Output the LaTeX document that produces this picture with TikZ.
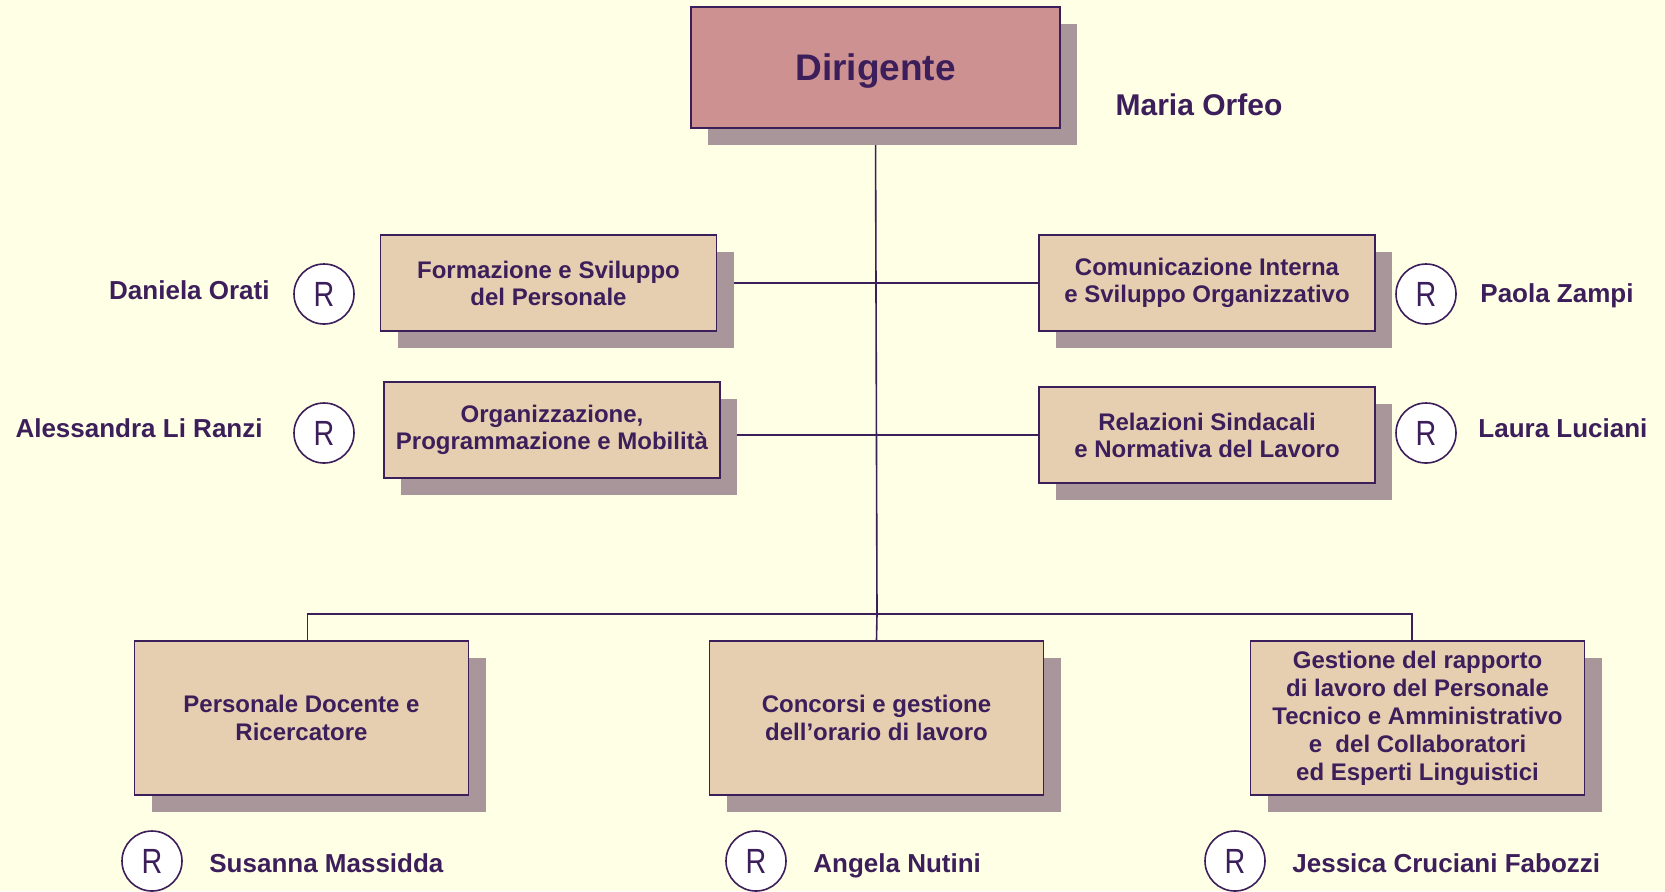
\documentclass[tikz,border=0pt]{standalone}
\usepackage{fontspec}
\setmainfont{Liberation Sans}
\newfontfamily\narrowsans[FakeStretch=0.82]{Liberation Sans}
\usetikzlibrary{shadows}
\usetikzlibrary{backgrounds}
\definecolor{bgyellow}{RGB}{255,255,229}
\definecolor{ink}{RGB}{60,30,90}
\definecolor{rosebox}{RGB}{205,145,145}
\definecolor{sandbox}{RGB}{230,207,176}
\definecolor{shadowgray}{RGB}{168,150,155}
\tikzset{
  unitbox/.style={draw=ink, line width=0.9pt, fill=sandbox, text=ink, align=center, inner sep=0pt,
    font=\bfseries\fontsize{12}{13.5}\selectfont,
    drop shadow={shadow xshift=8.5pt, shadow yshift=-8.5pt, fill=shadowgray, opacity=1}},
  midbox/.style={unitbox, minimum width=168pt, minimum height=48pt},
  lowbox/.style={unitbox, minimum width=167pt, minimum height=77pt, font=\bfseries\fontsize{12}{14}\selectfont},
  respmark/.style={circle, draw=ink, line width=0.8pt, fill=white, text=ink, minimum size=30pt, inner sep=0pt,
    font=\narrowsans\fontsize{17.5}{17.5}\selectfont},
  person/.style={text=ink, inner sep=0pt, font=\bfseries\fontsize{13}{15}\selectfont},
  link/.style={draw=ink, line width=0.8pt}
}
\begin{document}
\begin{tikzpicture}[x=0.5pt,y=-0.5pt]
\useasboundingbox (0,0) rectangle (1665,891);

\node[unitbox, fill=rosebox, minimum width=184.5pt, minimum height=60.5pt, text depth=0pt, font=\bfseries\fontsize{18.5}{20}\selectfont] (diri) at (875.5,67.5) {Dirigente};
\node[person, anchor=base, font=\bfseries\fontsize{15}{17}\selectfont] (orfeo) at (1199,115) {Maria Orfeo};

\node[midbox] (form) at (548.5,283) {Formazione e Sviluppo\\del Personale};
\node[midbox] (comu) at (1207,283) {Comunicazione Interna\\e Sviluppo Organizzativo};
\node[midbox] (org) at (552,430) {Organizzazione,\\Programmazione e Mobilità};
\node[midbox] (rel) at (1207,435) {Relazioni Sindacali\\e Normativa del Lavoro};

\node[lowbox] (pers) at (301.5,718) {Personale Docente e\\Ricercatore};
\node[lowbox] (conc) at (876.5,718) {Concorsi e gestione\\dell’orario di lavoro};
\node[lowbox] (gest) at (1417.5,718) {Gestione del rapporto\\di lavoro del Personale\\Tecnico e Amministrativo\\e \ del Collaboratori\\ed Esperti Linguistici};

\node[respmark] (rd) at (324,294) {R};
\node[respmark] (ra) at (324,433) {R};
\node[respmark] (rp) at (1426,294) {R};
\node[respmark] (rl) at (1426,433) {R};
\node[respmark] (rs) at (152,861) {R};
\node[respmark] (rn) at (756,861) {R};
\node[respmark] (rj) at (1235,861) {R};

\node[person, anchor=base east] (orati) at (270,299) {Daniela Orati};
\node[person, anchor=base east] (ranzi) at (263,437) {Alessandra Li Ranzi};
\node[person, anchor=base west] (zampi) at (1480,302) {Paola Zampi};
\node[person, anchor=base west] (luciani) at (1478,437) {Laura Luciani};
\node[person, anchor=base west] (massidda) at (209,872) {Susanna Massidda};
\node[person, anchor=base west] (nutini) at (813,872) {Angela Nutini};
\node[person, anchor=base west] (fabozzi) at (1292,872) {Jessica Cruciani Fabozzi};

\coordinate (bus) at (877,614);
\begin{scope}[on background layer]
\fill[bgyellow] (0,0) rectangle (1665,891);
\draw[link] (diri.south) -- (bus);
\draw[link] (form.east) -- (comu.west);
\draw[link] (rel.west) -- (rel.west -| org.east);
\draw[link] ([xshift=3pt]pers.north) |- (bus) -| ([xshift=-2.75pt]gest.north);
\draw[link] (bus) -- (conc.north);
\end{scope}
\end{tikzpicture}
\end{document}
